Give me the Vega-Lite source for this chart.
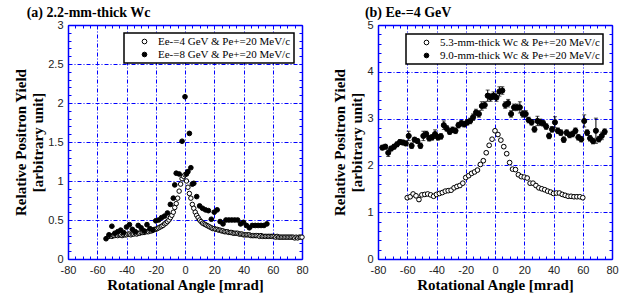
{
  "$schema": "https://vega.github.io/schema/vega-lite/v6.json",
  "padding": {"left": 13, "top": 6, "right": 5, "bottom": 2},
  "background": "white",
  "spacing": 23,
  "config": {
    "view": {"stroke": null},
    "axis": {
      "domainColor": "#0000ff", "domainWidth": 1.5,
      "tickColor": "#0000ff", "tickSize": -3, "tickWidth": 1,
      "gridColor": "#0000ff", "gridDash": [4, 2, 1, 2], "gridWidth": 1,
      "labelFont": "Liberation Sans", "labelFontSize": 11, "labelColor": "#222222",
      "labelPadding": 8, "labelOverlap": false, "labelFlush": false, "labelBound": false,
      "titleFont": "Liberation Serif", "titleFontSize": 15, "titleFontWeight": "bold",
      "titleColor": "black", "titlePadding": 2
    },
    "title": {"font": "Liberation Serif", "fontSize": 14, "fontWeight": "bold", "anchor": "start", "offset": -1, "color": "black"},
    "legend": {
      "orient": "top-right", "offset": 8, "fillColor": "white", "strokeColor": "black", "strokeWidth": 1.5,
      "padding": 3, "labelFont": "Liberation Serif", "labelFontSize": 11, "labelColor": "black",
      "symbolType": "circle", "symbolSize": 22, "symbolStrokeColor": "black", "symbolStrokeWidth": 1,
      "symbolOffset": 12, "labelOffset": 8, "rowPadding": 1, "labelLimit": 400
    }
  },
  "datasets": {
    "a4": [
      {"a":-52,"y":0.29},{"a":-51,"y":0.30},{"a":-50,"y":0.29},{"a":-49,"y":0.30},{"a":-48,"y":0.30},{"a":-47,"y":0.31},{"a":-46,"y":0.30},{"a":-45,"y":0.31},{"a":-44,"y":0.31},{"a":-43,"y":0.30},
      {"a":-42,"y":0.31},{"a":-41,"y":0.31},{"a":-40,"y":0.31},{"a":-39,"y":0.32},{"a":-38,"y":0.32},{"a":-37,"y":0.31},{"a":-36,"y":0.32},{"a":-35,"y":0.32},{"a":-34,"y":0.33},{"a":-33,"y":0.32},
      {"a":-32,"y":0.33},{"a":-31,"y":0.33},{"a":-30,"y":0.34},{"a":-29,"y":0.34},{"a":-28,"y":0.34},{"a":-27,"y":0.35},{"a":-26,"y":0.35},{"a":-25,"y":0.35},{"a":-24,"y":0.36},{"a":-23,"y":0.36},
      {"a":-22,"y":0.37},{"a":-21,"y":0.38},{"a":-20,"y":0.38},{"a":-19,"y":0.39},{"a":-18,"y":0.40},{"a":-17,"y":0.41},{"a":-16,"y":0.42},{"a":-15,"y":0.43},{"a":-14,"y":0.45},{"a":-13,"y":0.46},
      {"a":-12,"y":0.48},{"a":-11,"y":0.50},{"a":-10,"y":0.53},{"a":-9,"y":0.56},{"a":-8,"y":0.60},{"a":-7,"y":0.66},{"a":-6,"y":0.71},{"a":-5,"y":0.78},{"a":-4,"y":0.87},{"a":-3,"y":0.96},
      {"a":-2,"y":1.03},{"a":-1,"y":1.06},{"a":0,"y":1.08},{"a":1,"y":1.00},{"a":2,"y":0.92},{"a":3,"y":0.84},{"a":4,"y":0.78},{"a":5,"y":0.70},{"a":6,"y":0.65},{"a":7,"y":0.60},
      {"a":8,"y":0.56},{"a":9,"y":0.53},{"a":10,"y":0.50},{"a":11,"y":0.48},{"a":12,"y":0.46},{"a":13,"y":0.45},{"a":14,"y":0.44},{"a":15,"y":0.43},{"a":16,"y":0.42},{"a":17,"y":0.41},
      {"a":18,"y":0.40},{"a":19,"y":0.39},{"a":20,"y":0.39},{"a":21,"y":0.38},{"a":22,"y":0.38},{"a":23,"y":0.37},{"a":24,"y":0.37},{"a":25,"y":0.36},{"a":26,"y":0.36},{"a":27,"y":0.35},
      {"a":28,"y":0.35},{"a":29,"y":0.35},{"a":30,"y":0.34},{"a":31,"y":0.34},{"a":32,"y":0.34},{"a":33,"y":0.33},{"a":34,"y":0.33},{"a":35,"y":0.33},{"a":36,"y":0.33},{"a":37,"y":0.32},
      {"a":38,"y":0.32},{"a":39,"y":0.32},{"a":40,"y":0.31},{"a":41,"y":0.31},{"a":42,"y":0.31},{"a":43,"y":0.31},{"a":44,"y":0.31},{"a":45,"y":0.30},{"a":46,"y":0.30},{"a":47,"y":0.30},
      {"a":48,"y":0.30},{"a":49,"y":0.30},{"a":50,"y":0.30},{"a":51,"y":0.29},{"a":52,"y":0.30},{"a":53,"y":0.29},{"a":54,"y":0.29},{"a":55,"y":0.29},{"a":56,"y":0.29},{"a":57,"y":0.29},
      {"a":58,"y":0.29},{"a":59,"y":0.29},{"a":60,"y":0.29},{"a":61,"y":0.29},{"a":62,"y":0.28},{"a":63,"y":0.29},{"a":64,"y":0.28},{"a":65,"y":0.28},{"a":66,"y":0.28},{"a":67,"y":0.28},
      {"a":68,"y":0.28},{"a":69,"y":0.28},{"a":70,"y":0.28},{"a":71,"y":0.28},{"a":72,"y":0.28},{"a":73,"y":0.28},{"a":74,"y":0.28},{"a":75,"y":0.27},{"a":76,"y":0.28},{"a":77,"y":0.27},
      {"a":78,"y":0.28},{"a":79,"y":0.28},{"a":80,"y":0.28}
    ],
    "a8": [
      {"a":-54,"y":0.26},{"a":-52,"y":0.31},{"a":-50,"y":0.42},{"a":-48,"y":0.33},{"a":-46,"y":0.35},{"a":-44,"y":0.37},{"a":-42,"y":0.34},{"a":-40,"y":0.41},{"a":-38,"y":0.44},{"a":-36,"y":0.38},
      {"a":-34,"y":0.35},{"a":-32,"y":0.43},{"a":-30,"y":0.40},{"a":-28,"y":0.36},{"a":-26,"y":0.44},{"a":-24,"y":0.39},{"a":-22,"y":0.37},{"a":-20,"y":0.49},{"a":-18,"y":0.50},{"a":-16,"y":0.53},
      {"a":-14,"y":0.55},{"a":-12,"y":0.59},{"a":-10,"y":0.70},{"a":-8,"y":0.78},{"a":-7,"y":0.95},{"a":-6,"y":1.10},{"a":-4,"y":1.09},{"a":-2,"y":1.51},{"a":0,"y":2.08},{"a":1,"y":1.09},
      {"a":2,"y":1.12},{"a":3,"y":1.61},{"a":4,"y":1.17},{"a":5,"y":0.96},{"a":6,"y":0.97},{"a":8,"y":0.80},{"a":10,"y":0.68},{"a":12,"y":0.65},{"a":14,"y":0.63},{"a":16,"y":0.62},
      {"a":18,"y":0.51},{"a":20,"y":0.60},{"a":22,"y":0.63},{"a":24,"y":0.48},{"a":26,"y":0.45},{"a":28,"y":0.50},{"a":30,"y":0.50},{"a":32,"y":0.50},{"a":34,"y":0.50},{"a":36,"y":0.50},
      {"a":38,"y":0.45},{"a":40,"y":0.47},{"a":42,"y":0.43},{"a":44,"y":0.40},{"a":46,"y":0.43},{"a":48,"y":0.43},{"a":50,"y":0.43},{"a":52,"y":0.43},{"a":54,"y":0.43},{"a":56,"y":0.45}
    ],
    "b5": [
      {"a":-60,"y":1.31,"e":0.03},{"a":-58,"y":1.33,"e":0.03},{"a":-56,"y":1.39,"e":0.03},{"a":-54,"y":1.35,"e":0.03},{"a":-52,"y":1.27,"e":0.04},{"a":-50,"y":1.37,"e":0.03},{"a":-48,"y":1.38,"e":0.03},{"a":-46,"y":1.39,"e":0.03},
      {"a":-44,"y":1.37,"e":0.03},{"a":-42,"y":1.34,"e":0.03},{"a":-40,"y":1.38,"e":0.03},{"a":-38,"y":1.40,"e":0.03},{"a":-36,"y":1.42,"e":0.03},{"a":-34,"y":1.45,"e":0.03},{"a":-32,"y":1.46,"e":0.03},{"a":-30,"y":1.47,"e":0.03},
      {"a":-28,"y":1.52,"e":0.03},{"a":-26,"y":1.55,"e":0.03},{"a":-24,"y":1.57,"e":0.03},{"a":-22,"y":1.62,"e":0.03},{"a":-20,"y":1.74,"e":0.03},{"a":-18,"y":1.78,"e":0.03},{"a":-16,"y":1.83,"e":0.03},{"a":-14,"y":1.86,"e":0.03},
      {"a":-12,"y":1.90,"e":0.03},{"a":-10,"y":2.02,"e":0.03},{"a":-8,"y":2.10,"e":0.03},{"a":-6,"y":2.27,"e":0.03},{"a":-4,"y":2.43,"e":0.03},{"a":-2,"y":2.56,"e":0.03},{"a":0,"y":2.74,"e":0.03},{"a":2,"y":2.66,"e":0.03},
      {"a":4,"y":2.54,"e":0.03},{"a":6,"y":2.40,"e":0.03},{"a":8,"y":2.25,"e":0.03},{"a":10,"y":2.06,"e":0.03},{"a":12,"y":1.92,"e":0.03},{"a":14,"y":1.91,"e":0.03},{"a":16,"y":1.80,"e":0.03},{"a":18,"y":1.76,"e":0.03},
      {"a":20,"y":1.75,"e":0.03},{"a":22,"y":1.73,"e":0.03},{"a":24,"y":1.62,"e":0.03},{"a":26,"y":1.62,"e":0.03},{"a":28,"y":1.57,"e":0.03},{"a":30,"y":1.52,"e":0.03},{"a":32,"y":1.50,"e":0.03},{"a":34,"y":1.48,"e":0.03},
      {"a":36,"y":1.45,"e":0.03},{"a":38,"y":1.43,"e":0.03},{"a":40,"y":1.40,"e":0.03},{"a":42,"y":1.41,"e":0.03},{"a":44,"y":1.41,"e":0.03},{"a":46,"y":1.38,"e":0.03},{"a":48,"y":1.36,"e":0.03},{"a":50,"y":1.34,"e":0.03},
      {"a":52,"y":1.34,"e":0.03},{"a":54,"y":1.33,"e":0.03},{"a":56,"y":1.33,"e":0.03},{"a":58,"y":1.33,"e":0.03},{"a":60,"y":1.31,"e":0.03}
    ],
    "b9": [
      {"a":-77,"y":2.38,"e":0.05},{"a":-75,"y":2.40,"e":0.05},{"a":-73,"y":2.27,"e":0.08},{"a":-71,"y":2.36,"e":0.05},{"a":-69,"y":2.40,"e":0.05},{"a":-67,"y":2.45,"e":0.05},{"a":-65,"y":2.50,"e":0.05},{"a":-63,"y":2.49,"e":0.05},
      {"a":-61,"y":2.47,"e":0.05},{"a":-59,"y":2.63,"e":0.10},{"a":-57,"y":2.42,"e":0.06},{"a":-55,"y":2.55,"e":0.05},{"a":-53,"y":2.52,"e":0.05},{"a":-51,"y":2.42,"e":0.06},{"a":-49,"y":2.63,"e":0.10},{"a":-47,"y":2.67,"e":0.06},
      {"a":-45,"y":2.58,"e":0.06},{"a":-43,"y":2.60,"e":0.06},{"a":-41,"y":2.67,"e":0.09},{"a":-39,"y":2.60,"e":0.06},{"a":-37,"y":2.62,"e":0.06},{"a":-35,"y":2.86,"e":0.09},{"a":-33,"y":2.79,"e":0.06},{"a":-31,"y":2.72,"e":0.06},
      {"a":-29,"y":2.76,"e":0.06},{"a":-27,"y":2.74,"e":0.06},{"a":-25,"y":2.86,"e":0.06},{"a":-23,"y":2.90,"e":0.06},{"a":-21,"y":2.88,"e":0.06},{"a":-19,"y":2.92,"e":0.06},{"a":-17,"y":2.95,"e":0.06},{"a":-15,"y":3.03,"e":0.07},
      {"a":-13,"y":3.13,"e":0.07},{"a":-11,"y":3.10,"e":0.07},{"a":-9,"y":3.27,"e":0.09},{"a":-7,"y":3.29,"e":0.07},{"a":-5,"y":3.49,"e":0.12},{"a":-3,"y":3.45,"e":0.08},{"a":-1,"y":3.49,"e":0.08},{"a":1,"y":3.45,"e":0.08},
      {"a":3,"y":3.58,"e":0.10},{"a":5,"y":3.60,"e":0.08},{"a":7,"y":3.29,"e":0.07},{"a":9,"y":3.33,"e":0.08},{"a":11,"y":3.10,"e":0.07},{"a":13,"y":3.24,"e":0.07},{"a":15,"y":3.24,"e":0.07},{"a":17,"y":3.24,"e":0.12},
      {"a":19,"y":3.10,"e":0.07},{"a":21,"y":3.10,"e":0.07},{"a":23,"y":2.97,"e":0.06},{"a":25,"y":2.92,"e":0.06},{"a":27,"y":2.77,"e":0.06},{"a":29,"y":2.95,"e":0.10},{"a":31,"y":2.92,"e":0.07},{"a":33,"y":2.90,"e":0.06},
      {"a":35,"y":2.83,"e":0.06},{"a":37,"y":2.63,"e":0.06},{"a":39,"y":2.77,"e":0.06},{"a":41,"y":2.92,"e":0.12},{"a":43,"y":2.74,"e":0.06},{"a":45,"y":2.70,"e":0.06},{"a":47,"y":2.55,"e":0.06},{"a":49,"y":2.70,"e":0.06},
      {"a":51,"y":2.65,"e":0.06},{"a":53,"y":2.67,"e":0.06},{"a":55,"y":2.74,"e":0.06},{"a":57,"y":2.60,"e":0.06},{"a":59,"y":2.56,"e":0.06},{"a":61,"y":2.95,"e":0.13},{"a":63,"y":2.70,"e":0.06},{"a":65,"y":2.58,"e":0.06},
      {"a":67,"y":2.52,"e":0.06},{"a":69,"y":2.74,"e":0.27},{"a":71,"y":2.56,"e":0.06},{"a":73,"y":2.63,"e":0.08},{"a":75,"y":2.72,"e":0.06}
    ]
  },
  "resolve": {"scale": {"fill": "independent"}, "legend": {"fill": "independent"}},
  "hconcat": [
    {
      "width": 234, "height": 234,
      "title": {"text": "(a) 2.2-mm-thick Wc", "frame": "bounds", "dx": 13, "fontSize": 14},
      "resolve": {"axis": {"x": "independent", "y": "independent"}},
      "layer": [
        {
          "data": {"name": "a4"},
          "mark": {"type": "point", "shape": "circle", "filled": true, "size": 20, "stroke": "black", "strokeWidth": 1, "opacity": 1},
          "encoding": {
            "x": {"field": "a", "type": "quantitative", "scale": {"domain": [-80, 80], "nice": false},
              "axis": {"orient": "bottom", "values": [-80,-75,-70,-65,-60,-55,-50,-45,-40,-35,-30,-25,-20,-15,-10,-5,0,5,10,15,20,25,30,35,40,45,50,55,60,65,70,75,80],
                "labelExpr": "datum.value % 20 === 0 ? '' + datum.value : ''", "grid": true,
                "gridOpacity": {"condition": {"test": "datum.value % 20 === 0", "value": 1}, "value": 0},
                "title": "Rotational Angle [mrad]"}},
            "y": {"field": "y", "type": "quantitative", "scale": {"domain": [0, 3], "nice": false},
              "axis": {"orient": "left", "values": [0,0.1,0.2,0.3,0.4,0.5,0.6,0.7,0.8,0.9,1,1.1,1.2,1.3,1.4,1.5,1.6,1.7,1.8,1.9,2,2.1,2.2,2.3,2.4,2.5,2.6,2.7,2.8,2.9,3],
                "labelExpr": "abs(datum.value*2 - round(datum.value*2)) < 0.001 ? '' + datum.value : ''", "grid": true,
                "gridOpacity": {"condition": {"test": "abs(datum.value*2 - round(datum.value*2)) < 0.001", "value": 1}, "value": 0},
                "title": ["Relative Positron Yield", "[arbitrary unit]"]}},
            "fill": {"datum": "Ee-=4 GeV & Pe+=20 MeV/c", "type": "nominal",
              "scale": {"domain": ["Ee-=4 GeV & Pe+=20 MeV/c", "Ee-=8 GeV & Pe+=20 MeV/c"], "range": ["white", "black"]},
              "legend": {"title": null, "labelFont": "Liberation Serif", "labelFontSize": 11}}
          }
        },
        {
          "data": {"name": "a8"},
          "mark": {"type": "point", "shape": "circle", "filled": true, "size": 22, "stroke": "black", "strokeWidth": 1, "opacity": 1},
          "encoding": {
            "x": {"field": "a", "type": "quantitative",
              "axis": {"orient": "top", "values": [-80,-75,-70,-65,-60,-55,-50,-45,-40,-35,-30,-25,-20,-15,-10,-5,0,5,10,15,20,25,30,35,40,45,50,55,60,65,70,75,80],
                "labels": false, "grid": false, "title": null}},
            "y": {"field": "y", "type": "quantitative",
              "axis": {"orient": "right", "values": [0,0.1,0.2,0.3,0.4,0.5,0.6,0.7,0.8,0.9,1,1.1,1.2,1.3,1.4,1.5,1.6,1.7,1.8,1.9,2,2.1,2.2,2.3,2.4,2.5,2.6,2.7,2.8,2.9,3],
                "labels": false, "grid": false, "title": null}},
            "fill": {"datum": "Ee-=8 GeV & Pe+=20 MeV/c", "type": "nominal"}
          }
        }
      ]
    },
    {
      "width": 234, "height": 234,
      "title": {"text": "(b) Ee-=4 GeV", "frame": "bounds", "dx": 32},
      "resolve": {"axis": {"x": "independent", "y": "independent"}},
      "layer": [
        {
          "data": {"name": "b5"},
          "mark": {"type": "errorbar", "ticks": {"size": 4}, "color": "black", "thickness": 1},
          "encoding": {
            "x": {"field": "a", "type": "quantitative", "scale": {"domain": [-80, 80], "nice": false},
              "axis": {"orient": "bottom", "values": [-80,-75,-70,-65,-60,-55,-50,-45,-40,-35,-30,-25,-20,-15,-10,-5,0,5,10,15,20,25,30,35,40,45,50,55,60,65,70,75,80],
                "labelExpr": "datum.value % 20 === 0 ? '' + datum.value : ''", "grid": true,
                "gridOpacity": {"condition": {"test": "datum.value % 20 === 0", "value": 1}, "value": 0},
                "title": "Rotational Angle [mrad]"}},
            "y": {"field": "y", "type": "quantitative", "scale": {"domain": [0, 5], "nice": false},
              "axis": {"orient": "left", "values": [0,0.2,0.4,0.6,0.8,1,1.2,1.4,1.6,1.8,2,2.2,2.4,2.6,2.8,3,3.2,3.4,3.6,3.8,4,4.2,4.4,4.6,4.8,5],
                "labelExpr": "abs(datum.value - round(datum.value)) < 0.001 ? '' + datum.value : ''", "grid": true,
                "gridOpacity": {"condition": {"test": "abs(datum.value - round(datum.value)) < 0.001", "value": 1}, "value": 0},
                "title": ["Relative Positron Yield", "[arbitrary unit]"]}},
            "yError": {"field": "e"}
          }
        },
        {
          "data": {"name": "b5"},
          "mark": {"type": "point", "shape": "circle", "filled": true, "size": 22, "stroke": "black", "strokeWidth": 1, "opacity": 1},
          "encoding": {
            "x": {"field": "a", "type": "quantitative", "axis": null},
            "y": {"field": "y", "type": "quantitative", "axis": null},
            "fill": {"datum": "5.3-mm-thick Wc & Pe+=20 MeV/c", "type": "nominal",
              "scale": {"domain": ["5.3-mm-thick Wc & Pe+=20 MeV/c", "9.0-mm-thick Wc & Pe+=20 MeV/c"], "range": ["white", "black"]},
              "legend": {"title": null, "offset": 9, "labelFont": "Liberation Serif", "labelFontSize": 11}}
          }
        },
        {
          "data": {"name": "b9"},
          "mark": {"type": "errorbar", "ticks": {"size": 4}, "color": "black", "thickness": 1},
          "encoding": {
            "x": {"field": "a", "type": "quantitative", "axis": null},
            "y": {"field": "y", "type": "quantitative", "axis": null},
            "yError": {"field": "e"}
          }
        },
        {
          "data": {"name": "b9"},
          "mark": {"type": "point", "shape": "circle", "filled": true, "size": 26, "stroke": "black", "strokeWidth": 1, "opacity": 1},
          "encoding": {
            "x": {"field": "a", "type": "quantitative",
              "axis": {"orient": "top", "values": [-80,-75,-70,-65,-60,-55,-50,-45,-40,-35,-30,-25,-20,-15,-10,-5,0,5,10,15,20,25,30,35,40,45,50,55,60,65,70,75,80],
                "labels": false, "grid": false, "title": null}},
            "y": {"field": "y", "type": "quantitative",
              "axis": {"orient": "right", "values": [0,0.2,0.4,0.6,0.8,1,1.2,1.4,1.6,1.8,2,2.2,2.4,2.6,2.8,3,3.2,3.4,3.6,3.8,4,4.2,4.4,4.6,4.8,5],
                "labels": false, "grid": false, "title": null}},
            "fill": {"datum": "9.0-mm-thick Wc & Pe+=20 MeV/c", "type": "nominal"}
          }
        }
      ]
    }
  ]
}
